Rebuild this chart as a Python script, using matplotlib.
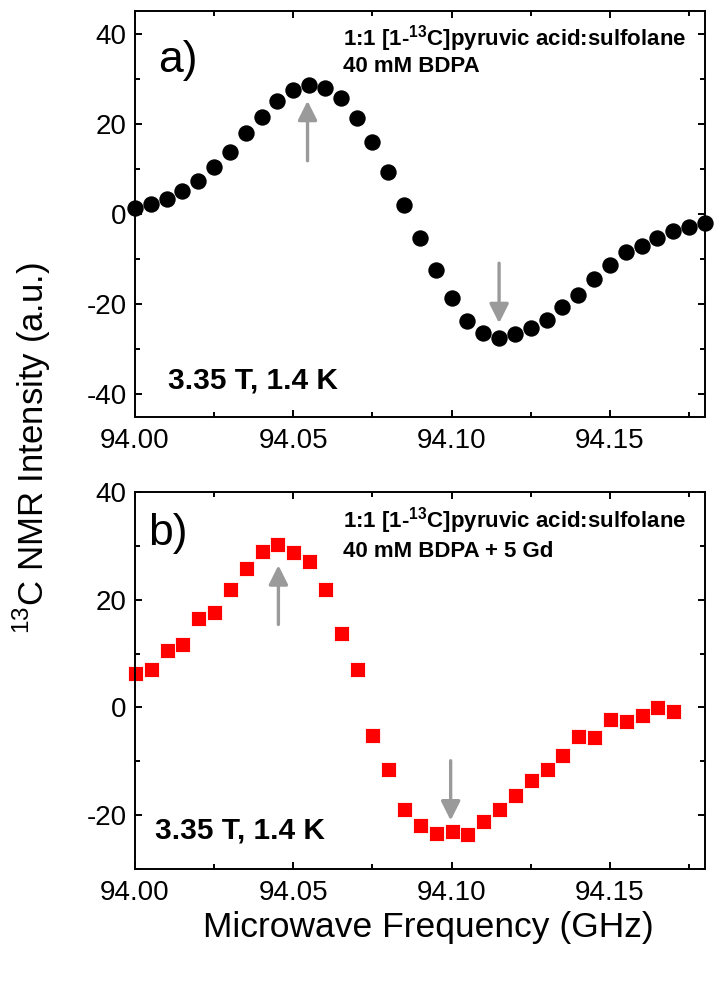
import matplotlib
matplotlib.use("Agg")
import matplotlib.pyplot as plt
from matplotlib.ticker import MultipleLocator, FormatStrFormatter

plt.rcParams['font.family'] = ['Liberation Sans', 'DejaVu Sans']
plt.rcParams['mathtext.fontset'] = 'custom'
plt.rcParams['mathtext.rm'] = 'Liberation Sans'
plt.rcParams['mathtext.bf'] = 'Liberation Sans:bold'
plt.rcParams['axes.unicode_minus'] = False

# panel a) 40 mM BDPA
freq_a = [94.000, 94.005, 94.010, 94.015, 94.020, 94.025, 94.030, 94.035,
          94.040, 94.045, 94.050, 94.055, 94.060, 94.065, 94.070, 94.075,
          94.080, 94.085, 94.090, 94.095, 94.100, 94.105, 94.110, 94.115,
          94.120, 94.125, 94.130, 94.135, 94.140, 94.145, 94.150, 94.155,
          94.160, 94.165, 94.170, 94.175, 94.180]
signal_a = [1.4, 2.2, 3.3, 5.0, 7.3, 10.5, 13.8, 17.9,
            21.6, 25.1, 27.5, 28.7, 27.9, 25.7, 21.3, 16.0,
            9.4, 2.0, -5.3, -12.3, -18.6, -23.8, -26.4, -27.5,
            -26.7, -25.3, -23.4, -20.7, -17.9, -14.5, -11.3, -8.4,
            -7.1, -5.3, -3.8, -2.9, -1.9]

# panel b) 40 mM BDPA + 5 Gd
freq_b = [94.000, 94.005, 94.010, 94.015, 94.020, 94.025, 94.030, 94.035,
          94.040, 94.045, 94.050, 94.055, 94.060, 94.065, 94.070, 94.075,
          94.080, 94.085, 94.090, 94.095, 94.100, 94.105, 94.110, 94.115,
          94.120, 94.125, 94.130, 94.135, 94.140, 94.145, 94.150, 94.155,
          94.160, 94.165, 94.170]
signal_b = [6.3, 7.1, 10.6, 11.7, 16.6, 17.8, 21.9, 25.8,
            29.0, 30.4, 28.9, 27.2, 21.9, 13.9, 7.1, -5.2,
            -11.5, -18.8, -21.8, -23.3, -22.9, -23.5, -21.0, -18.8,
            -16.2, -13.4, -11.4, -8.8, -5.3, -5.5, -2.1, -2.6,
            -1.5, 0.1, -0.6]

# arrows: (x, y_tail, y_tip)
arrows_a = [(94.0545, 11.8, 25.1), (94.115, -10.9, -24.2)]
arrows_b = [(94.0453, 15.4, 26.4), (94.0997, -9.9, -21.0)]

sample_a = ["1:1 [1-$^{\\mathbf{13}}$C]pyruvic acid:sulfolane", "40 mM BDPA"]
sample_b = ["1:1 [1-$^{\\mathbf{13}}$C]pyruvic acid:sulfolane", "40 mM BDPA + 5 Gd"]
condition = "3.35 T, 1.4 K"

arrow_gray = '#9a9a9a'

fig = plt.figure(figsize=(7.16, 9.84), dpi=100)
ax1 = fig.add_axes([0.1885, 0.5762, 0.796, 0.4126])
ax2 = fig.add_axes([0.1885, 0.1169, 0.796, 0.3831])

ax1.plot(freq_a, signal_a, 'o', color='black', markersize=11.8, markeredgewidth=0, clip_on=False)
ax2.plot(freq_b, signal_b, 's', color='#ff0000', markersize=10.8, markeredgewidth=0.6,
         markeredgecolor='white', clip_on=False)

for ax, arrows in ((ax1, arrows_a), (ax2, arrows_b)):
    for x, y0, y1 in arrows:
        ax.annotate('', xy=(x, y1), xytext=(x, y0),
                    arrowprops=dict(arrowstyle='-|>', color=arrow_gray, lw=2.4,
                                    mutation_scale=29, shrinkA=0, shrinkB=0))

ax1.set_ylim(-45, 45)
ax2.set_ylim(-30, 40)
for ax in (ax1, ax2):
    ax.set_xlim(94.0, 94.18)
    ax.xaxis.set_major_locator(MultipleLocator(0.05))
    ax.xaxis.set_minor_locator(MultipleLocator(0.025))
    ax.xaxis.set_major_formatter(FormatStrFormatter('%.2f'))
    ax.yaxis.set_major_locator(MultipleLocator(20))
    ax.yaxis.set_minor_locator(MultipleLocator(10))
    ax.tick_params(which='both', direction='in', top=True, right=True, width=1.4)
    ax.tick_params(which='major', length=5, labelsize=20, pad=6)
    ax.tick_params(which='minor', length=3.5)
    ax.tick_params(axis='x', pad=8)
    for s in ax.spines.values():
        s.set_linewidth(1.4)

ax1.text(0.04, 0.85, 'a)', transform=ax1.transAxes, fontsize=32)
ax2.text(0.023, 0.86, 'b)', transform=ax2.transAxes, fontsize=32)

ax1.text(0.365, 0.916, sample_a[0], transform=ax1.transAxes, fontsize=16, fontweight='bold')
ax1.text(0.365, 0.85, sample_a[1], transform=ax1.transAxes, fontsize=16, fontweight='bold')
ax2.text(0.365, 0.905, sample_b[0], transform=ax2.transAxes, fontsize=16, fontweight='bold')
ax2.text(0.365, 0.828, sample_b[1], transform=ax2.transAxes, fontsize=16, fontweight='bold')

ax1.text(0.058, 0.071, condition, transform=ax1.transAxes, fontsize=21.5, fontweight='bold')
ax2.text(0.035, 0.082, condition, transform=ax2.transAxes, fontsize=21.5, fontweight='bold')

fig.text(0.045, 0.545, '$^{13}$C NMR Intensity (a.u.)', rotation=90, fontsize=25,
         ha='center', va='center')
fig.text(0.598, 0.057, 'Microwave Frequency (GHz)', fontsize=25.5, ha='center', va='center')

fig.savefig('out.png', dpi=100)
